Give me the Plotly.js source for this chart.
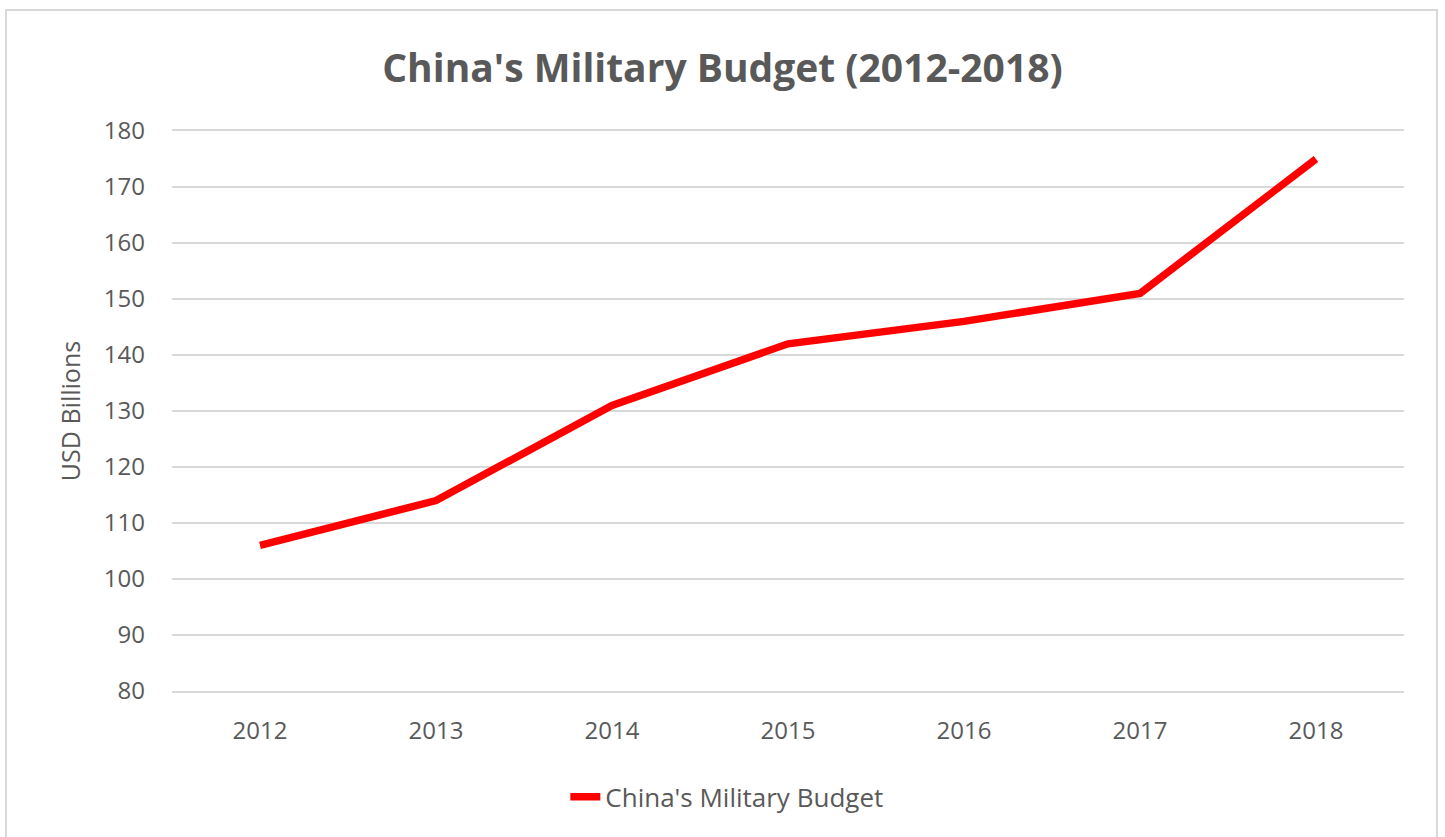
<!DOCTYPE html>
<html>
<head>
<meta charset="utf-8">
<script src="https://cdn.plot.ly/plotly-3.0.1.min.js"></script>
<style>
  html, body { margin: 0; padding: 0; background: #ffffff; }
  #chart { width: 1445px; height: 837px; }
  #frame { position: absolute; left: 5px; top: 9px; width: 1433px; height: 840px; border: 2px solid #d9d9d9; pointer-events: none; box-sizing: border-box; }
</style>
</head>
<body>
<div id="chart"></div>
<div id="frame"></div>
<script>
const years = ['2012', '2013', '2014', '2015', '2016', '2017', '2018'];
const budget = [106, 114, 131, 142, 146, 151, 175];
const seriesName = "China's Military Budget";
const chartTitle = "China's Military Budget (2012-2018)";
const yTitle = 'USD Billions';

const trace = {
  x: years,
  y: budget,
  type: 'scatter',
  mode: 'lines',
  name: seriesName,
  line: { color: '#ff0000', width: 7.5 }
};

const layout = {
  width: 1445,
  height: 837,
  margin: { l: 172, r: 41, t: 131, b: 146, autoexpand: false },
  paper_bgcolor: '#ffffff',
  plot_bgcolor: '#ffffff',
  font: { family: 'Open Sans, sans-serif', color: '#595959' },
  title: {
    text: '<b>' + chartTitle + '</b>',
    x: 0.5, xanchor: 'center',
    y: 0.918, yanchor: 'middle', yref: 'container',
    font: { size: 39, color: '#595959', family: 'Open Sans, sans-serif' }
  },
  xaxis: {
    type: 'category',
    range: [-0.5, 6.5],
    showgrid: false,
    zeroline: false,
    showline: true,
    mirror: true,
    linecolor: '#d9d9d9',
    linewidth: 2,
    ticks: '',
    tickfont: { size: 24, color: '#595959' },
    ticklabelstandoff: 17
  },
  yaxis: {
    range: [80, 180],
    dtick: 10,
    tick0: 80,
    showgrid: true,
    gridcolor: '#d9d9d9',
    gridwidth: 2,
    zeroline: false,
    showline: false,
    ticks: '',
    tickfont: { size: 24, color: '#595959' },
    ticklabelstandoff: 26,
    title: { text: yTitle, font: { size: 25, color: '#595959' }, standoff: 16 }
  },
  showlegend: true,
  legend: {
    orientation: 'h',
    x: 0.503, xanchor: 'center', xref: 'container',
    y: 0.048, yanchor: 'middle', yref: 'container',
    font: { size: 26, color: '#595959' }
  }
};

Plotly.newPlot('chart', [trace], layout, { displayModeBar: false, staticPlot: true });
</script>
</body>
</html>
